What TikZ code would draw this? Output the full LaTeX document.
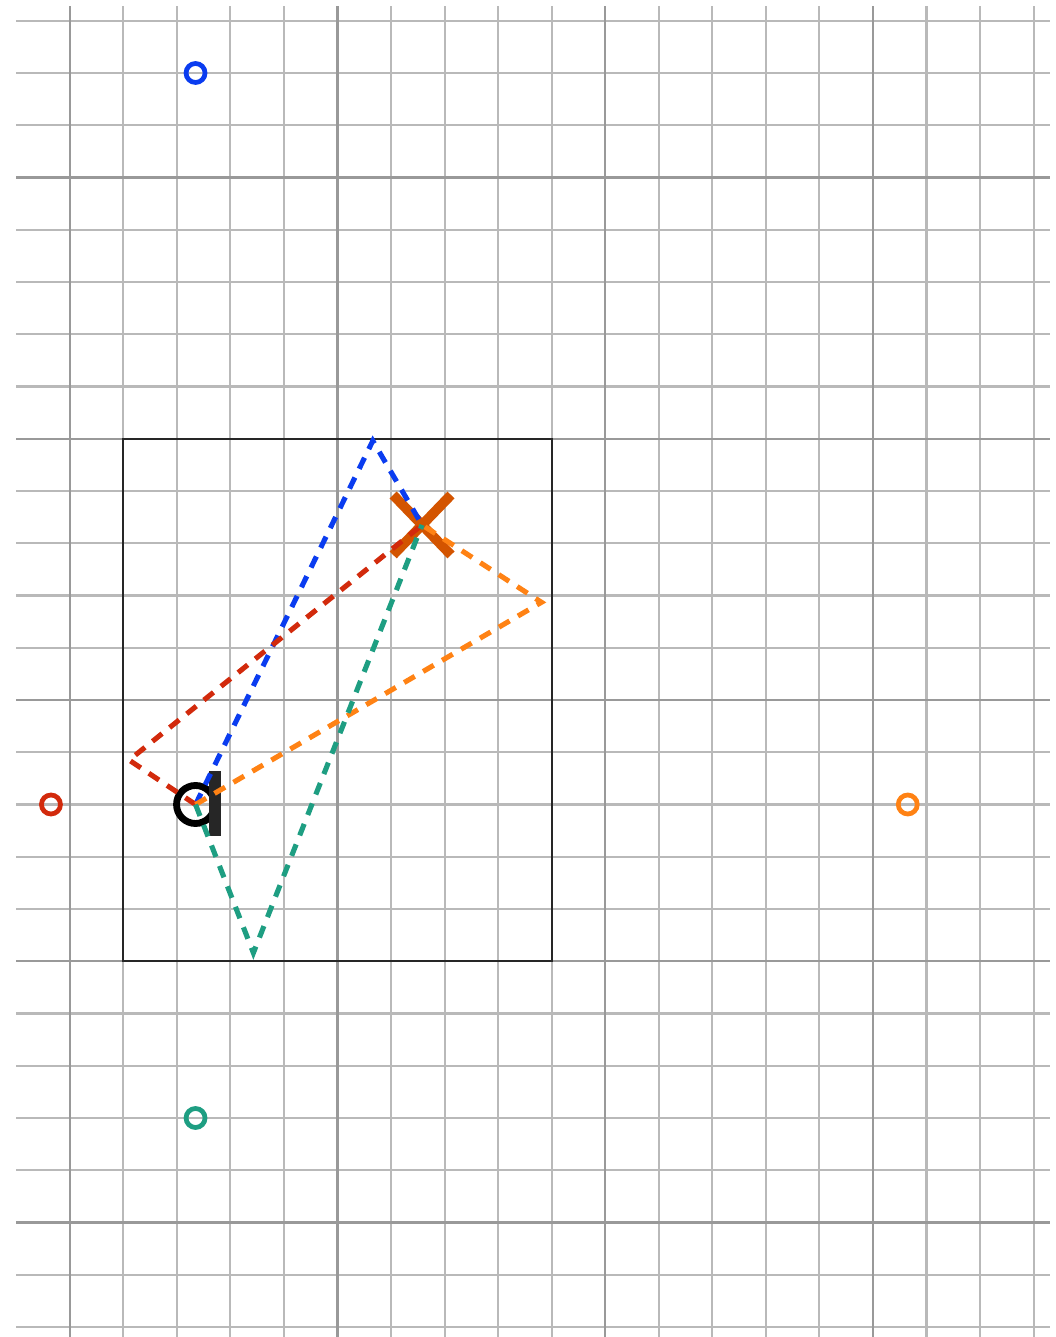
\documentclass[tikz,border=0pt]{standalone}
\usepackage{tikz}

\definecolor{rayblue}{HTML}{0A3CF0}
\definecolor{rayred}{HTML}{D22A0C}
\definecolor{rayorange}{HTML}{FF8214}
\definecolor{rayteal}{HTML}{1E9E82}
\definecolor{xcol}{HTML}{D35400}

\begin{document}
\begin{tikzpicture}[x=1.071cm, y=1.045cm]
    \tikzset{
        minor/.style={draw=gray!55, line width=1.2pt},
        major/.style={draw=gray!80, line width=1.2pt},
        ray/.style={dash pattern=on 7pt off 5.5pt, line width=2.9pt},
        mirror/.style={draw, circle, line width=2.7pt, minimum size=0.38cm, inner sep=0pt},
        xmark/.style={xcol, line width=5.6pt}
    }
    \useasboundingbox (-1.3016,-0.1914) rectangle (18.418,25.397);

    % grid
    \foreach \y in {0,...,25}{
        \draw[minor] (-1,\y) -- (18.3,\y);
    }
    \foreach \x in {0,...,18}{
        \draw[minor] (\x,-0.1914) -- (\x,25.29);
    }
    \foreach \y in {2,7,...,22}{
        \draw[major] (-1,\y) -- (18.3,\y);
    }
    \foreach \x in {0,5,10,15}{
        \draw[major] (\x,-0.1914) -- (\x,25.29);
    }

    % room
    \draw[black!85, line width=1.2pt] (1,7) rectangle (9,17);

    \coordinate (src) at (2.35,10);
    \coordinate (tgt) at (6.58,15.35);
    \coordinate (btop) at (5.66,16.96);
    \coordinate (bleft) at (1.11,10.85);
    \coordinate (bright) at (8.81,13.87);
    \coordinate (bbot) at (3.43,7.16);

    % target
    \draw[xmark] (tgt) ++(-0.54,0.574) -- ++(1.08,-1.148);
    \draw[xmark] (tgt) ++(0.54,0.574) -- ++(-1.08,-1.148);

    % source
    \draw node[draw, circle, line width=3.9pt, minimum size=0.76cm, inner sep=0pt] (eye) at (src) {};
    \draw node[fill=black!85, minimum width=0.24cm, minimum height=1.3cm, inner sep=0pt] (bar) at (2.713,10.02) {};

    \foreach \b/\c in {%
        btop/rayblue, bleft/rayred, bright/rayorange, bbot/rayteal%
    }{
    \draw[ray, \c] (src) -- (\b) -- (tgt);
    }

    % mirror images
    \draw node[mirror, rayblue] (itop) at (2.35,24) {};
    \draw node[mirror, rayred] (ileft) at (-0.35,10) {};
    \draw node[mirror, rayorange] (iright) at (15.65,10) {};
    \draw node[mirror, rayteal] (ibot) at (2.35,4) {};
\end{tikzpicture}
\end{document}
